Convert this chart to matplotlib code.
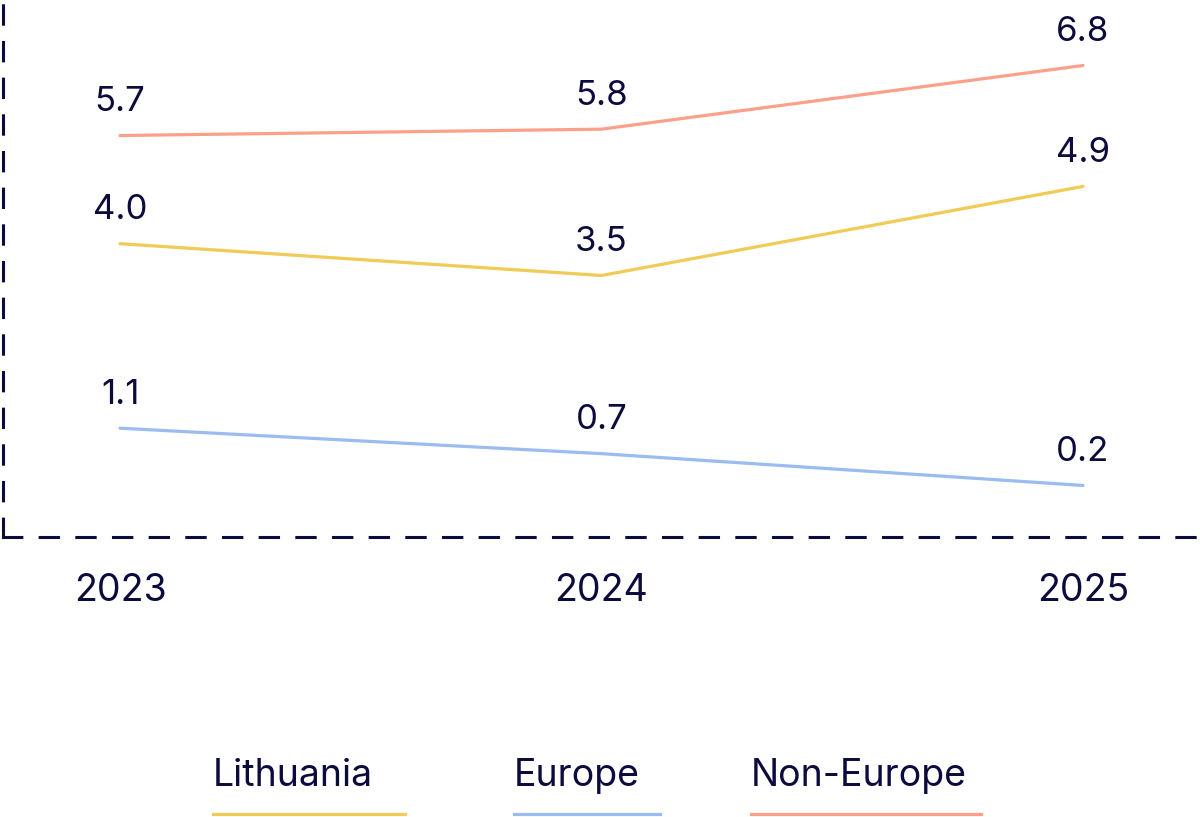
import matplotlib
matplotlib.use("Agg")
import matplotlib.pyplot as plt
from matplotlib.lines import Line2D

years = [2023, 2024, 2025]
lithuania = [4.0, 3.5, 4.9]
europe = [1.1, 0.7, 0.2]
non_europe = [5.7, 5.8, 6.8]
series_names = ["Lithuania", "Europe", "Non-Europe"]
colors = ["#f0cb55", "#9bbcf0", "#fca08a"]
navy = "#0b0b3e"

plt.rcParams['font.family'] = ['Inter', 'DejaVu Sans']

W, H = 1200, 817
fig = plt.figure(figsize=(W / 100, H / 100), dpi=100)
ax = fig.add_axes([3 / W, 1 - 537 / H, 1197 / W, 537 / H])

data = [lithuania, europe, non_europe]
for vals, c in zip(data, colors):
    ax.plot(years, vals, color=c, lw=2.3, solid_capstyle='round', zorder=3)
    for x, v in zip(years, vals):
        ax.annotate(f"{v:.1f}", (x, v), xytext=(0, 24), textcoords='offset points',
                    ha='center', va='center', fontsize=25, color=navy)

ax.set_xlim(2022.757, 2025.243)
ax.set_ylim(-0.61, 7.83)
ax.set_xticks(years)
ax.set_xticklabels([str(y) for y in years])
ax.set_yticks([])
ax.tick_params(axis='x', length=0, pad=26, labelsize=27, labelcolor=navy)
for s in ['top', 'right']:
    ax.spines[s].set_visible(False)
for s in ['left', 'bottom']:
    ax.spines[s].set_color(navy)
    ax.spines[s].set_linewidth(2.2)
    ax.spines[s].set_linestyle((0, (6, 6)))

# legend
leg = [(213, 405), (514, 660), (751, 981)]
for name, c, (x0, x1) in zip(series_names, colors, leg):
    fig.text(x0 / W, 1 - 776 / H, name, ha='left', va='center', fontsize=27, color=navy)
    fig.add_artist(Line2D([x0 / W, x1 / W], [1 - 814 / H, 1 - 814 / H], color=c, lw=2.3,
                          transform=fig.transFigure))

fig.savefig("out.png", dpi=100)
